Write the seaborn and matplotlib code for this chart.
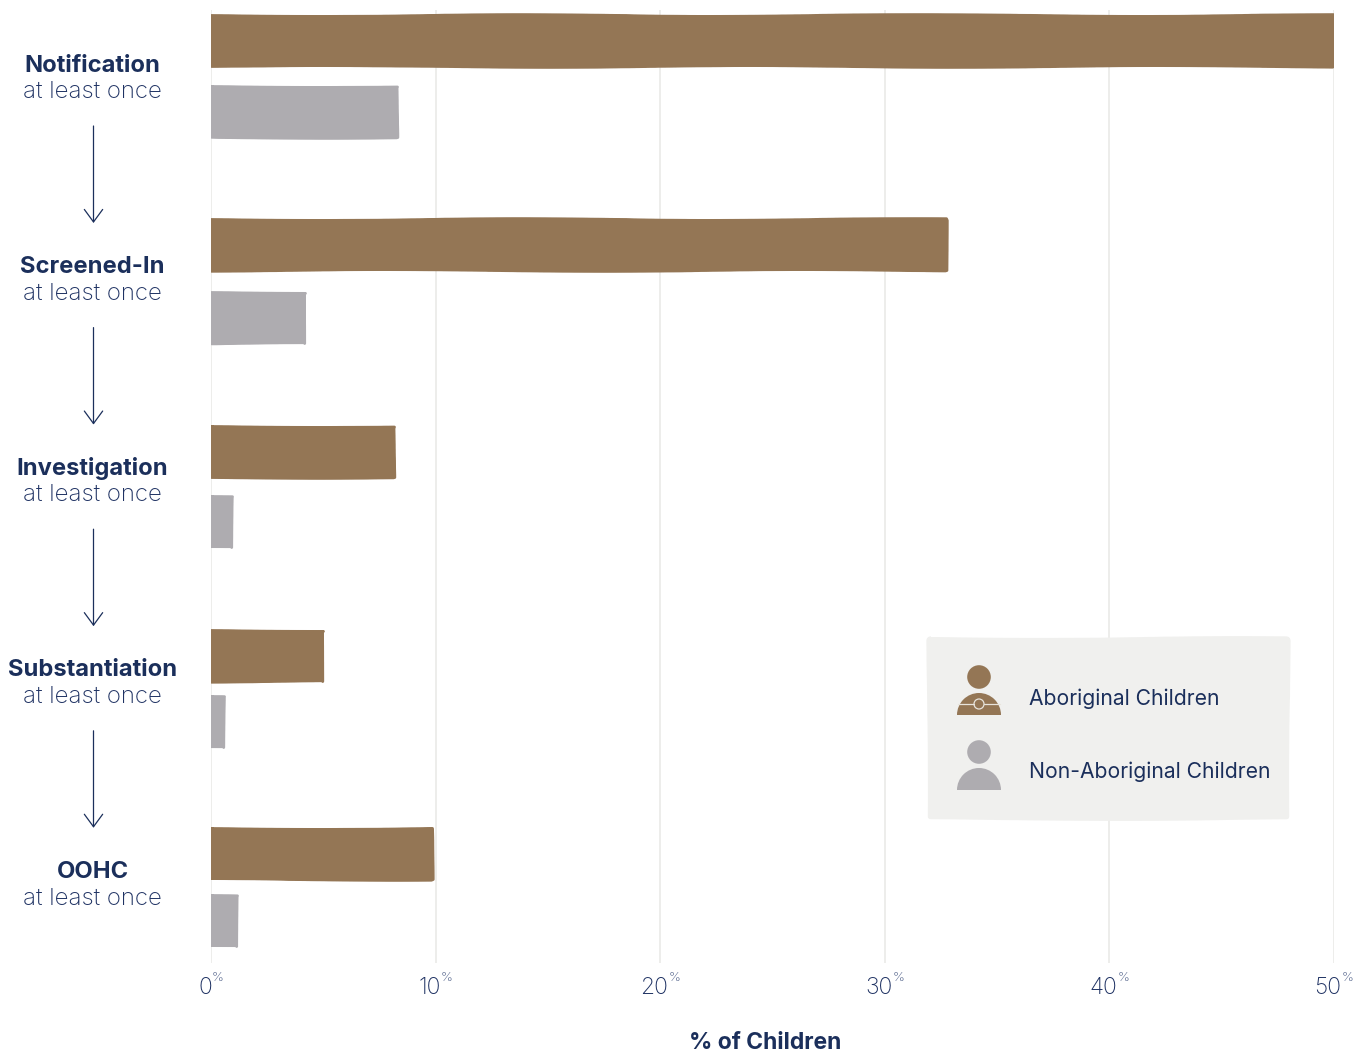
import matplotlib
matplotlib.use("Agg")
import matplotlib.pyplot as plt
from matplotlib.patches import Circle, Wedge, FancyBboxPatch, Rectangle
from matplotlib.transforms import Affine2D, ScaledTranslation
import pandas as pd
import seaborn as sns

stages = ["Notification", "Screened-In", "Investigation", "Substantiation", "OOHC"]
aboriginal = [49.97, 32.72, 8.17, 4.97, 9.82]
non_aboriginal = [8.3, 4.2, 0.95, 0.6, 1.15]
groups = ["Aboriginal Children", "Non-Aboriginal Children"]
ticks = [0, 10, 20, 30, 40, 50]
sublabel = "at least once"
xlabel = "% of Children"

BROWN = "#947655"
GREY = "#aeacb0"
NAVY = "#1b2f5b"
SOFT = "#1f3263"
GRID = "#e8e8e6"
PANEL = "#f0f0ee"
FONT = "Inter"

sns.set_theme(style="white")
plt.rcParams["font.family"] = [FONT, "DejaVu Sans"]

W, H = 1370, 1053
fig = plt.figure(figsize=(W / 100, H / 100), dpi=100, facecolor="white")
ax = fig.add_axes([211 / W, 1 - 963 / H, (1334 - 211) / W, (963 - 10) / H])

df = pd.DataFrame({
    "stage": stages * 2,
    "group": [groups[0]] * 5 + [groups[1]] * 5,
    "value": aboriginal + non_aboriginal,
})
sns.barplot(data=df, y="stage", x="value", hue="group", order=stages, hue_order=groups,
            palette=[BROWN, GREY], width=0.70, gap=0.28, legend=False, ax=ax, saturation=1)
ax.set_ylim(4.375, -0.325)
ax.set_xlim(0, 50)
ax.set_xlabel("")
ax.set_ylabel("")
ax.set_yticks([])
ax.set_xticks(ticks)
ax.set_xticklabels([str(t) for t in ticks], fontsize=16.5, color=SOFT, fontweight="light")
ax.tick_params(axis="x", length=0, pad=10)
shift = ScaledTranslation(-6 / 100, 0, fig.dpi_scale_trans)
for lab in ax.get_xticklabels():
    lab.set_transform(lab.get_transform() + shift)
    ax.annotate("%", xy=(1, 1), xycoords=lab, xytext=(0, -1), textcoords="offset pixels",
                fontsize=9.5, fontweight="light", color="#4a5b85", ha="left", va="center",
                annotation_clip=False)
ax.grid(axis="x", color=GRID, lw=1.1)
ax.set_axisbelow(True)
sns.despine(ax=ax, left=True, bottom=True, top=True, right=True)

# the reference's hand-drawn bars sit a few pixels off the regular band grid
nudges_px = [0, 1, 6, 7, 2, 0, 3, 5, 2, -2]
for p, dy in zip(ax.patches, nudges_px):
    p.set_transform(ax.transData + Affine2D().translate(0, -dy))
    p.set_sketch_params(scale=0.9, length=700, randomness=6)
    p.set_edgecolor(p.get_facecolor())
    p.set_linewidth(2)
    p.set_joinstyle("round")

# overlay in pixel space for the flow labels, arrows and legend panel
ov = fig.add_axes([0, 0, 1, 1], facecolor="none")
ov.set_xlim(0, W)
ov.set_ylim(H, 0)
ov.axis("off")

for i, s in enumerate(stages):
    y = 65.5 + 201.6 * i
    ov.text(92.5, y, s, ha="center", va="center", fontsize=17.1, fontweight="bold", color=NAVY)
    ov.text(92.5, y + 26.5, sublabel, ha="center", va="center", fontsize=17.3, fontweight="light", color=SOFT)
    if i < len(stages) - 1:
        y0 = 126 + 201.6 * i
        ov.annotate("", xy=(93.5, y0 + 97), xytext=(93.5, y0),
                    arrowprops=dict(arrowstyle="->,head_length=0.75,head_width=0.55", color=NAVY, lw=0.9,
                                    shrinkA=0, shrinkB=0))

ov.text(765, 1043, xlabel, ha="center", va="center", fontsize=16.5, fontweight="bold", color=NAVY)

panel = FancyBboxPatch((927, 637), 363, 183, boxstyle="round,pad=0,rounding_size=4",
                       fc=PANEL, ec="none")
panel.set_sketch_params(scale=0.9, length=700, randomness=6)
ov.add_patch(panel)


def person(cy, color, marked):
    cx = 979
    ov.add_patch(Circle((cx, cy), 11.8, fc=color, ec="none"))
    ov.add_patch(Wedge((cx, cy + 38), 22, 180, 360, fc=color, ec="none"))
    ov.add_patch(Rectangle((cx - 22, cy + 38), 44, 0.01, fc=color, ec="none"))
    if marked:
        ov.plot([cx - 21, cx - 5], [cy + 27, cy + 27], color="#e8e4dc", lw=0.9)
        ov.plot([cx + 5, cx + 21], [cy + 27, cy + 27], color="#e8e4dc", lw=0.9)
        ov.add_patch(Circle((cx, cy + 27), 5, fc=color, ec="#e8e4dc", lw=0.9))


person(677, BROWN, True)
person(752, GREY, False)
ov.text(1029, 699, groups[0], ha="left", va="center", fontsize=15.2, color=NAVY)
ov.text(1029, 772, groups[1], ha="left", va="center", fontsize=15.2, color=NAVY)

fig.savefig("out.png", dpi=100)
